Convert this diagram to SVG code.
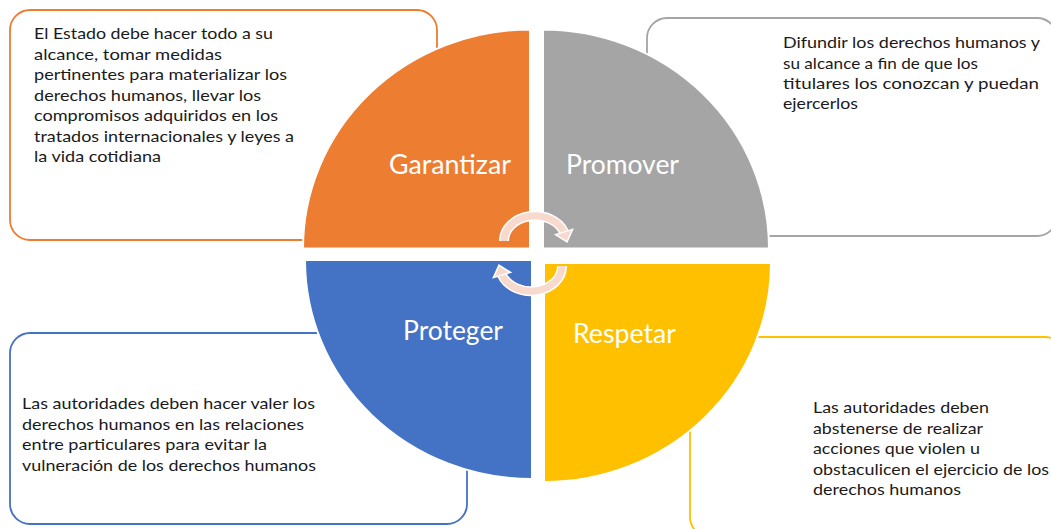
<svg xmlns="http://www.w3.org/2000/svg" width="1051" height="529" viewBox="0 0 1051 529">
<style>
.box{fill:#fff;stroke-width:1.8}
.q{stroke:#fff;stroke-width:2}
.lbl{font-family:Lato,"Open Sans","Liberation Sans",sans-serif;font-size:27px;fill:#fff}
.t{font-family:Lato,"Open Sans","Liberation Sans",sans-serif;font-size:16px;fill:#1a1a1a}
.arrW{fill:none;stroke:#fff;stroke-width:10}
.arr{fill:none;stroke:#F8D9CD;stroke-width:7}
.head{fill:#F8D9CD;stroke:#fff;stroke-width:1.5;stroke-linejoin:miter}
</style>
<rect width="1051" height="529" fill="#fff"/>
<g id="box-garantizar"><rect class="box" x="10" y="10" width="427" height="230" rx="20" stroke="#ED7D31"/></g>
<g id="box-promover"><rect class="box" x="647" y="18" width="410" height="218" rx="20" stroke="#A5A5A5"/></g>
<g id="box-proteger"><rect class="box" x="10" y="333" width="457" height="191" rx="20" stroke="#4472C4"/></g>
<g id="box-respetar"><rect class="box" x="690" y="337" width="375" height="200" rx="20" stroke="#FFC000"/></g>

<g id="garantizar"><path class="q" fill="#ED7D31" d="M530,248.5 L303,248.5 A227,219 0 0 1 530,29.5 Z"/>
<text class="lbl" x="389" y="174" textLength="122" lengthAdjust="spacingAndGlyphs">Garantizar</text></g>
<g id="promover"><path class="q" fill="#A5A5A5" d="M543,248.5 L543,29.5 A226,219 0 0 1 769,248.5 Z"/>
<text class="lbl" x="566" y="174" textLength="113" lengthAdjust="spacingAndGlyphs">Promover</text></g>
<g id="proteger"><path class="q" fill="#4472C4" d="M532,260 L305,260 A227,219 0 0 0 532,479 Z"/>
<text class="lbl" x="403" y="340" textLength="100" lengthAdjust="spacingAndGlyphs">Proteger</text></g>
<g id="respetar"><path class="q" fill="#FFC000" d="M544,263 L771,263 A227,219 0 0 1 544,482 Z"/>
<text class="lbl" x="573" y="342.5" textLength="103" lengthAdjust="spacingAndGlyphs">Respetar</text></g>

<g id="text-garantizar">
<text class="t" x="34" y="39.3" textLength="239" lengthAdjust="spacingAndGlyphs">El Estado debe hacer todo a su</text>
<text class="t" x="34" y="59.8" textLength="188" lengthAdjust="spacingAndGlyphs">alcance, tomar medidas</text>
<text class="t" x="34" y="80.3" textLength="253" lengthAdjust="spacingAndGlyphs">pertinentes para materializar los</text>
<text class="t" x="34" y="100.8" textLength="227" lengthAdjust="spacingAndGlyphs">derechos humanos, llevar los</text>
<text class="t" x="34" y="121.3" textLength="244" lengthAdjust="spacingAndGlyphs">compromisos adquiridos en los</text>
<text class="t" x="34" y="141.8" textLength="260" lengthAdjust="spacingAndGlyphs">tratados internacionales y leyes a</text>
<text class="t" x="34" y="162.3" textLength="127" lengthAdjust="spacingAndGlyphs">la vida cotidiana</text>
</g>
<g id="text-promover">
<text class="t" x="783" y="48.3" textLength="257" lengthAdjust="spacingAndGlyphs">Difundir los derechos humanos y</text>
<text class="t" x="783" y="68.5" textLength="195" lengthAdjust="spacingAndGlyphs">su alcance a fin de que los</text>
<text class="t" x="783" y="88.7" textLength="256" lengthAdjust="spacingAndGlyphs">titulares los conozcan y puedan</text>
<text class="t" x="783" y="108.9" textLength="75" lengthAdjust="spacingAndGlyphs">ejercerlos</text>
</g>
<g id="text-proteger">
<text class="t" x="22" y="409.3" textLength="293" lengthAdjust="spacingAndGlyphs">Las autoridades deben hacer valer los</text>
<text class="t" x="22" y="429.8" textLength="282" lengthAdjust="spacingAndGlyphs">derechos humanos en las relaciones</text>
<text class="t" x="22" y="450.3" textLength="245" lengthAdjust="spacingAndGlyphs">entre particulares para evitar la</text>
<text class="t" x="22" y="470.8" textLength="294" lengthAdjust="spacingAndGlyphs">vulneración de los derechos humanos</text>
</g>
<g id="text-respetar">
<text class="t" x="813" y="413.3" textLength="176" lengthAdjust="spacingAndGlyphs">Las autoridades deben</text>
<text class="t" x="813" y="433.8" textLength="170" lengthAdjust="spacingAndGlyphs">abstenerse de realizar</text>
<text class="t" x="813" y="454.3" textLength="167" lengthAdjust="spacingAndGlyphs">acciones que violen u</text>
<text class="t" x="813" y="474.8" textLength="236" lengthAdjust="spacingAndGlyphs">obstaculicen el ejercicio de los</text>
<text class="t" x="813" y="495.3" textLength="148" lengthAdjust="spacingAndGlyphs">derechos humanos</text>
</g>

<g id="connectors">
<g id="arrow-top">
<path class="arrW" d="M504,241 A31,25 0 0 1 564,232"/>
<path class="arr" d="M504,241 A31,25 0 0 1 564,232"/>
<polygon class="head" points="555.4,234.6 572.6,229.4 567,242"/>
</g>
<g id="arrow-bottom" transform="rotate(180 533 253.5)">
<path class="arrW" d="M504,241 A31,25 0 0 1 564,232"/>
<path class="arr" d="M504,241 A31,25 0 0 1 564,232"/>
<polygon class="head" points="555.4,234.6 572.6,229.4 567,242"/>
</g>
</g>
</svg>
